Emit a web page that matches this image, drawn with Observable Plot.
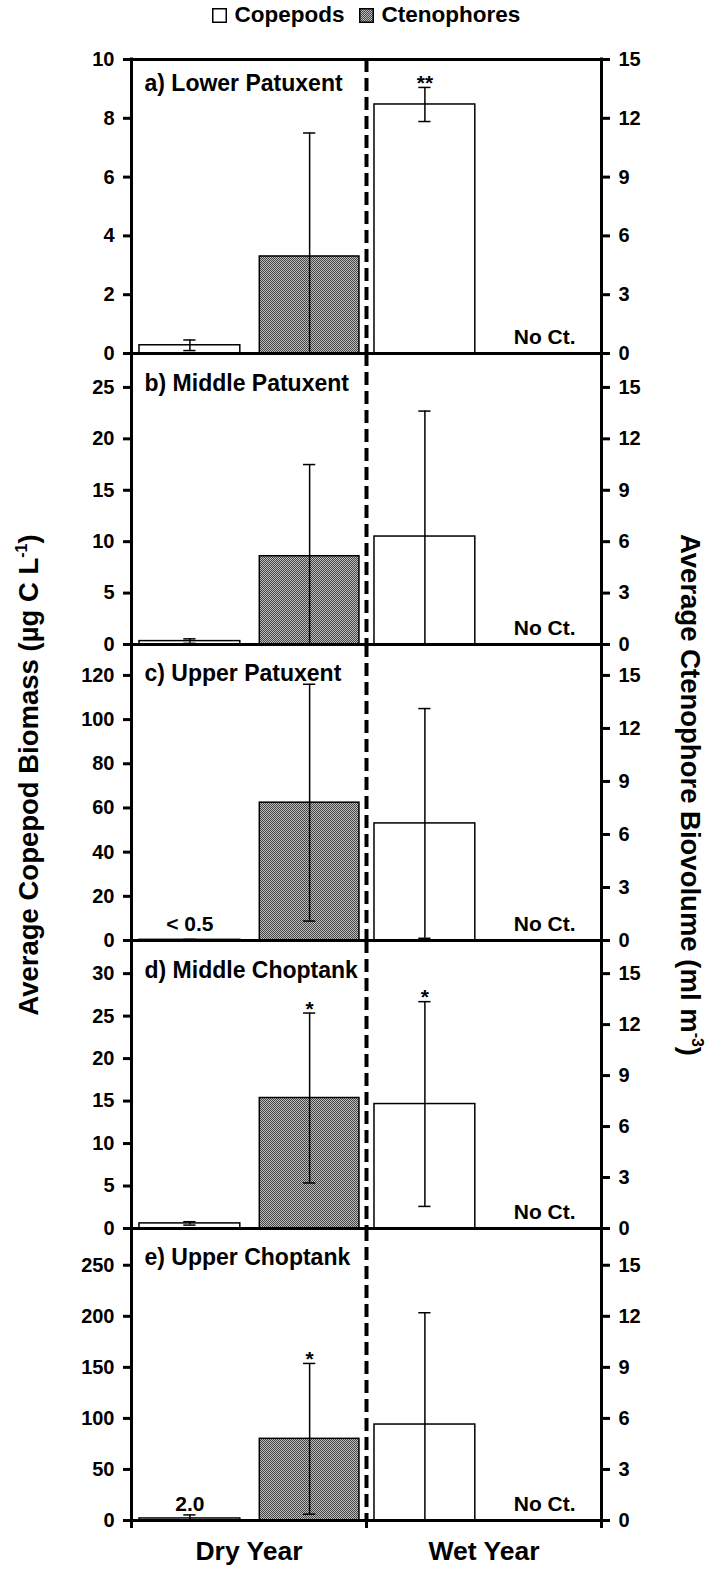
<!DOCTYPE html>
<html><head><meta charset="utf-8">
<script src="https://cdn.jsdelivr.net/npm/d3@7"></script>
<script src="https://cdn.jsdelivr.net/npm/@observablehq/plot@0.6"></script>
<style>
body{margin:0;background:#fff;font-family:"Liberation Sans",Arial,sans-serif;font-weight:bold;color:#000;}
#wrap{position:relative;width:718px;height:1574px;overflow:hidden;}
#legend{height:30px;display:flex;justify-content:center;align-items:center;font-size:22.5px;padding-left:14px;}
#legend .item{display:flex;align-items:center;}
#legend svg{display:block;margin-right:8px;}
.ytitle{position:absolute;white-space:nowrap;font-size:27.5px;transform-origin:center center;}
.ytitle sup{font-size:16px;vertical-align:11px;line-height:0;}
#panels svg{display:block;overflow:visible;}
</style></head>
<body>
<svg width="0" height="0" style="position:absolute;left:0;top:0">
 <defs>
  <pattern id="checker" width="2" height="2" patternUnits="userSpaceOnUse">
   <rect x="0" y="0" width="2" height="2" fill="#bdbdbd"/>
   <rect x="0" y="0" width="1" height="1" fill="#454545"/>
   <rect x="1" y="1" width="1" height="1" fill="#454545"/>
  </pattern>
 </defs>
</svg>
<div id="wrap">
 <div id="legend"></div>
 <div id="panels"></div>
 <div class="ytitle" id="ltitle">Average Copepod Biomass (µg C L<sup>-1</sup>)</div>
 <div class="ytitle" id="rtitle">Average Ctenophore Biovolume (ml m<sup>-3</sup>)</div>
</div>
<script>
// ---------- data ----------
const legendItems = ["Copepods", "Ctenophores"];
const panelNames = ["a) Lower Patuxent", "b) Middle Patuxent", "c) Upper Patuxent", "d) Middle Choptank", "e) Upper Choptank"];
const years = ["Dry Year", "Wet Year"];
const leftTickMax = [10, 25, 120, 30, 250];
const leftTickStep = [2, 5, 20, 5, 50];
const rightTicks = [0, 3, 6, 9, 12, 15];
const rightPerLeft = [1.5, 0.6, 0.125, 0.5, 0.06];   // ctenophore axis units per copepod axis unit
const leftTop = [10, 28.3, 134, 33.9, 286];           // visible top of each panel (copepod units)
const copDry = [0.28, 0.33, 0.3, 0.6, 2.0];
const copDryErr = [0.18, 0.22, 0.2, 0.2, 3.5];
const copWet = [8.47, 10.5, 53, 14.65, 94];
const copWetErr = [0.58, 12.2, 52, 12.05, 109.5];
const ctnDry = [4.95, 5.15, 7.8, 7.68, 4.8];         // ml m-3
const ctnDryErr = [6.3, 5.35, 6.7, 5.0, 4.43];
const copWetSig = ["**", "", "", "*", ""];
const ctnDrySig = ["", "", "", "*", "*"];
const copDryNote = ["", "", "< 0.5", "", "2.0"];
const wetCtnNote = "No Ct.";

// ---------- layout ----------
const W = 718, ML = 131, MR = 117;
const plotH = [294, 291, 296, 288, 292];
const mTop = [29, 0, 0, 0, 0];
const mBottom = [0, 0, 0, 0, 54];
const labelDy = [24, 30, 29, 30, 29];
const slot = {cop: [0.034, 0.463], ctn: [0.546, 0.97]};
const capHalf = 0.026;
const FONT = "'Liberation Sans', Arial, sans-serif";

// legend
const legend = document.getElementById("legend");
legendItems.forEach((name, i) => {
  const it = document.createElement("div");
  it.className = "item";
  it.style.marginRight = i === 0 ? "14px" : "0";
  it.innerHTML = `<svg width="15" height="15"><rect x="0.75" y="0.75" width="13.5" height="13.5" fill="${i === 0 ? "white" : "url(#checker)"}" stroke="black" stroke-width="1.5"/></svg><span>${name}</span>`;
  legend.appendChild(it);
});

const host = document.getElementById("panels");
panelNames.forEach((name, p) => {
  const k = rightPerLeft[p];
  const bars = [
    {g: 0, kind: "cop", v: copDry[p], e: copDryErr[p], sig: "", note: copDryNote[p]},
    {g: 0, kind: "ctn", v: ctnDry[p] / k, e: ctnDryErr[p] / k, sig: ctnDrySig[p], note: ""},
    {g: 1, kind: "cop", v: copWet[p], e: copWetErr[p], sig: copWetSig[p], note: ""},
    {g: 1, kind: "ctn", v: null, e: null, sig: "", note: wetCtnNote}
  ];
  bars.forEach(b => {
    b.x1 = b.g + slot[b.kind][0];
    b.x2 = b.g + slot[b.kind][1];
    b.xc = (b.x1 + b.x2) / 2;
    if (b.v != null) { b.lo = Math.max(0, b.v - b.e); b.hi = b.v + b.e; }
  });
  const present = bars.filter(b => b.v != null);
  const caps = present.flatMap(b => (b.v - b.e > 0 ? [b.hi, b.lo] : [b.hi]).map(y => ({xc: b.xc, y})));
  const leftTicks = d3.range(0, leftTickMax[p] + 1e-9, leftTickStep[p]);

  const marks = [
    Plot.rect(present.filter(b => b.kind === "cop"), {x1: "x1", x2: "x2", y1: () => 0, y2: "v", fill: "white", stroke: "black", strokeWidth: 1.5}),
    Plot.rect(present.filter(b => b.kind === "ctn"), {x1: "x1", x2: "x2", y1: () => 0, y2: "v", fill: "url(#checker)", stroke: "black", strokeWidth: 1.5}),
    Plot.ruleX(present, {x: "xc", y1: "lo", y2: "hi", stroke: "black", strokeWidth: 1.5}),
    Plot.ruleY(caps, {x1: d => d.xc - capHalf, x2: d => d.xc + capHalf, y: "y", stroke: "black", strokeWidth: 1.5}),
    Plot.ruleX([1], {stroke: "black", strokeWidth: 4, strokeDasharray: "13,6"}),
    Plot.ruleX([0, 2], {stroke: "black", strokeWidth: 3, strokeLinecap: "square"}),
    Plot.ruleY(p === 0 ? [0, leftTop[0]] : [0], {stroke: "black", strokeWidth: 3, strokeLinecap: "square"}),
    Plot.axisY(leftTicks, {anchor: "left", tickSize: 8, tickPadding: 9, strokeWidth: 3, fontSize: 20, label: null}),
    Plot.axisY(rightTicks.map(v => v / k), {anchor: "right", tickSize: 8, tickPadding: 9, strokeWidth: 3, fontSize: 20, label: null, tickFormat: d => String(Math.round(d * k))}),
    Plot.axisX([0, 1, 2], {tickSize: 8, strokeWidth: 3, tickFormat: () => "", label: null}),
    Plot.text(bars.filter(b => b.sig), {x: "xc", y: "hi", text: "sig", dy: -4, fontSize: 21}),
    Plot.text(bars.filter(b => b.note), {x: "xc", y: () => 0, text: "note", dy: -16, fontSize: 21}),
    Plot.text([name], {frameAnchor: "top-left", dx: 13, dy: labelDy[p], lineAnchor: "middle", textAnchor: "start", fontSize: 23})
  ];
  if (p === panelNames.length - 1) {
    marks.push(Plot.axisX([0.5, 1.5], {tickSize: 0, tickPadding: 21, fontSize: 26.5, label: null, tickFormat: d => years[Math.floor(d)]}));
  }
  const svg = Plot.plot({
    width: W,
    height: plotH[p] + mTop[p] + mBottom[p],
    marginLeft: ML, marginRight: MR, marginTop: mTop[p], marginBottom: mBottom[p],
    x: {domain: [0, 2]},
    y: {domain: [0, leftTop[p]]},
    style: {fontFamily: FONT, fontWeight: "bold", fontSize: "20px", color: "black", overflow: "visible", background: "transparent"},
    marks
  });
  host.appendChild(svg);
});

// axis titles
const lt = document.getElementById("ltitle");
const rt = document.getElementById("rtitle");
function place(el, cx, cy, deg) {
  const w = el.offsetWidth, h = el.offsetHeight;
  el.style.left = (cx - w / 2) + "px";
  el.style.top = (cy - h / 2) + "px";
  el.style.transform = `rotate(${deg}deg)`;
}
place(lt, 28, 775, -90);
place(rt, 690, 795, 90);
</script>
</body></html>
